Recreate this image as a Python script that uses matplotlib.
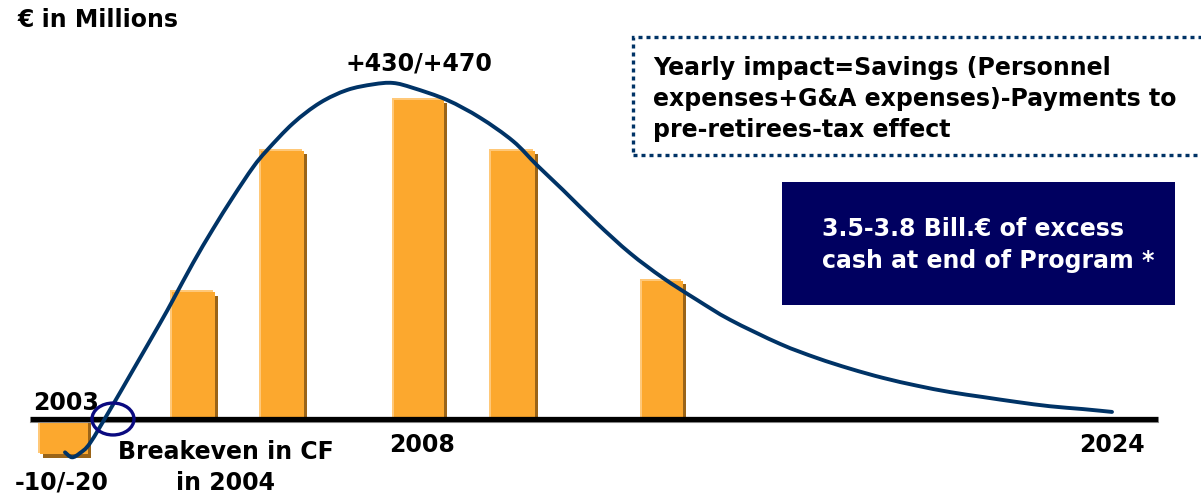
import numpy as np
import matplotlib
matplotlib.use('Agg')
import matplotlib.pyplot as plt
from matplotlib.patches import Ellipse, Rectangle, PathPatch
from matplotlib.path import Path
import matplotlib.patheffects as pe

plt.rcParams['font.family'] = ['DejaVu Sans']
plt.rcParams['font.weight'] = 'bold'

# bars (schematic positions along the time axis, values in € millions)
bar_x = [64, 193, 282, 419, 513, 662]
bar_val = [-50, 179, 378, 450, 378, 195]
bar_w = [48, 43, 43, 50, 44, 41]

# yearly impact curve
curve_x = [65, 72, 80, 90, 110, 133, 160, 173, 193, 213, 233, 253, 267, 293, 320, 347,
           373, 393, 413, 447, 480, 513, 537, 563, 597, 630, 663, 697, 730, 780, 817,
           850, 883, 917, 950, 983, 1017, 1050, 1083, 1112]
curve_y = [-47, -54, -48, -34, 13, 69, 135, 168, 220, 268, 313, 355, 379, 417, 446, 464,
           472, 474, 467, 450, 425, 392, 358, 323, 276, 234, 199, 168, 140, 106, 86,
           71, 58, 47, 38, 31, 24, 18, 14, 10]

year_labels = ['2003', '2008', '2024']
year_x = [66, 422, 1112]

fig = plt.figure(figsize=(12.01, 4.97), dpi=100)
ax = fig.add_axes([0, 0, 1, 1])
ax.set_xlim(0, 1201)
ax.set_ylim(-110, 591)
ax.axis('off')

orange = '#fca82e'
shade = '#9a6418'
light = '#ffc878'
navy = '#003366'
fs = 17

bars = ax.bar(bar_x, bar_val, width=bar_w, color=orange, zorder=2)
for b in bars:
    b.set_path_effects([
        pe.SimplePatchShadow(offset=(2.5, -2.5), shadow_rgbFace=shade, alpha=1),
        pe.SimplePatchShadow(offset=(-1.2, 1.2), shadow_rgbFace=light, alpha=1),
        pe.Normal()])

# baseline
ax.plot([30, 1158], [0, 0], color='black', lw=3.8, zorder=3, solid_capstyle='butt')
ax.plot([30, 1158], [-4, -4], color='#999999', lw=0.8, zorder=2.5)

# curve: smooth bezier path through the read points
pts = np.column_stack([curve_x, curve_y]).astype(float)
verts = [pts[0]]
codes = [Path.MOVETO]
for i in range(len(pts) - 1):
    p0 = pts[max(i - 1, 0)]
    p1 = pts[i]
    p2 = pts[i + 1]
    p3 = pts[min(i + 2, len(pts) - 1)]
    verts += [p1 + (p2 - p0) / 6, p2 - (p3 - p1) / 6, p2]
    codes += [Path.CURVE4] * 3
ax.add_patch(PathPatch(Path(verts, codes), fill=False, edgecolor=navy, lw=2.8,
                       zorder=4, capstyle='round', joinstyle='round'))

# breakeven circle
ax.add_patch(Ellipse((113, 0), 42, 45, fill=False, edgecolor='#0a0a80', lw=2.4, zorder=5))

fig.text(18 / 1201, 1 - 20 / 497, '€ in Millions', fontsize=fs, va='center', ha='left')
ax.text(bar_x[3], 502, '+430/+470', fontsize=fs, ha='center', va='center')

ax.text(year_x[0], 22, year_labels[0], fontsize=fs, ha='center', va='center')
ax.text(year_x[1], -37, year_labels[1], fontsize=fs, ha='center', va='center')
ax.text(year_x[2], -37, year_labels[2], fontsize=fs, ha='center', va='center')
ax.text(62, -89, '-10/-20', fontsize=fs, ha='center', va='center')
ax.text(226, -69, 'Breakeven in CF\nin 2004', fontsize=fs, ha='center', va='center',
        linespacing=1.37)

# dotted definition box
fig.patches.append(Rectangle((633 / 1201, 1 - 155 / 497), 0.6, 118 / 497, transform=fig.transFigure,
                             fill=False, edgecolor=navy, lw=2.4, linestyle=(0, (1.2, 1.2))))
fig.text(653 / 1201, 1 - 99 / 497,
         'Yearly impact=Savings (Personnel\nexpenses+G&A expenses)-Payments to\npre-retirees-tax effect',
         fontsize=fs, ha='left', va='center', linespacing=1.37)

# navy box
fig.patches.append(Rectangle((782 / 1201, 1 - 305 / 497), 393 / 1201, 123 / 497, transform=fig.transFigure,
                             facecolor='#000060', edgecolor='none'))
fig.text(822 / 1201, 1 - 245 / 497, '3.5-3.8 Bill.€ of excess\ncash at end of Program *',
         fontsize=fs, color='white', ha='left', va='center', linespacing=1.37)

fig.savefig('out.png', dpi=100)
